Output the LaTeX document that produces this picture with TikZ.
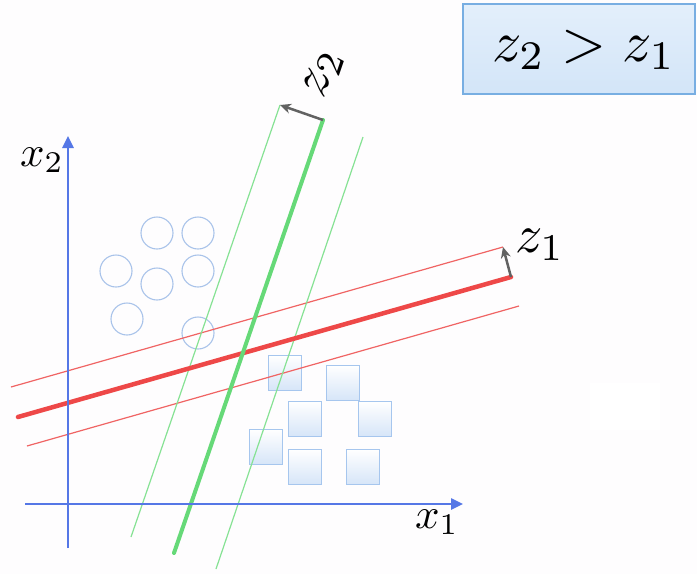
\documentclass[tikz,border=0pt]{standalone}
\usetikzlibrary{arrows.meta}
\definecolor{axisBlue}{HTML}{5577E6}
\definecolor{lineRed}{HTML}{EE4848}
\definecolor{thinRed}{HTML}{F06464}
\definecolor{lineGreen}{HTML}{66D978}
\definecolor{thinGreen}{HTML}{86E294}
\definecolor{dotBlue}{HTML}{A9C3EA}
\definecolor{squareEdge}{HTML}{A6C6EE}
\definecolor{squareFill}{HTML}{D6E5F8}
\definecolor{boxEdge}{HTML}{78AEE2}
\definecolor{boxTop}{HTML}{E3EFFB}
\definecolor{boxMid}{HTML}{F3F8FE}
\definecolor{boxBottom}{HTML}{D3E5F8}
\definecolor{pageTint}{HTML}{FEFDFE}
\definecolor{arrowGray}{HTML}{626262}

\begin{document}
\begin{tikzpicture}[x=1pt,y=-1pt,
  dot/.style={circle, draw=dotBlue, line width=1.1pt, minimum size=32pt, inner sep=0pt},
  square/.style={rectangle, draw=squareEdge, line width=1.1pt, top color=white, bottom color=squareFill, minimum width=33pt, minimum height=35pt, inner sep=0pt},
  thickred/.style={lineRed, line width=4.5pt, line cap=round},
  slimred/.style={thinRed, line width=1.2pt},
  thickgreen/.style={lineGreen, line width=4pt, line cap=round},
  slimgreen/.style={thinGreen, line width=1.2pt},
  normal/.style={arrowGray, line width=2.5pt, -{Stealth[length=11pt,width=10pt]}},
  axis/.style={axisBlue, line width=2.5pt, -{Triangle[length=12pt,width=11pt]}}]
  \fill[pageTint] (0,0) rectangle (697,574);
  \fill[white] (590,383) rectangle (660,430);

  \node[draw=boxEdge, line width=1.2pt, top color=boxTop, middle color=boxMid, bottom color=boxBottom,
        minimum width=232pt, minimum height=90pt] (ineq) at (579,49) {};
  \node[scale=5.8] (ineqtext) at (584,50) {$z_2 > z_1$};

  \foreach \n/\x/\y in {1/157/233, 2/198/233, 3/116/271, 4/157/284, 5/198/271, 6/127/319, 7/198/333}
    \node[dot] (c\n) at (\x,\y) {};
  \foreach \n/\x/\y in {1/285/373, 2/343/383, 3/305/419, 4/375/419, 5/266/447, 6/305/467, 7/363/467}
    \node[square] (s\n) at (\x,\y) {};

  \coordinate (redL) at (18,417);
  \coordinate (redR) at (511,277);
  \coordinate (redUL) at (11,387);
  \coordinate (redUR) at (503,247);
  \coordinate (redDL) at (27,446);
  \coordinate (redDR) at (519,306);
  \coordinate (greenB) at (174,553);
  \coordinate (greenT) at (323,120);
  \coordinate (greenLB) at (131,537);
  \coordinate (greenLT) at (280,105);
  \coordinate (greenRB) at (216,569);
  \coordinate (greenRT) at (363,137);

  \draw[slimred] (redUL) -- (redUR);
  \draw[slimred] (redDL) -- (redDR);
  \draw[slimgreen] (greenLB) -- (greenLT);
  \draw[slimgreen] (greenRB) -- (greenRT);
  \draw[thickred] (redL) -- (redR);
  \draw[thickgreen] (greenB) -- (greenT);
  \draw[normal] (redR) -- (redUR);
  \draw[normal] (greenT) -- (greenLT);

  \node[scale=5.4] (z1) at (540,245) {$z_1$};
  \node[scale=5.4, rotate=71] (z2) at (324,74) {$z_2$};

  \coordinate (origin) at (68,504);
  \coordinate (xend) at (463,504);
  \coordinate (xstart) at (25,504);
  \coordinate (ystart) at (68,548);
  \coordinate (yend) at (68,136);
  \draw[axis] (xstart) -- (xend);
  \draw[axis] (ystart) -- (yend);
  \node[scale=4.3] (x1) at (437,522) {$x_1$};
  \node[scale=4.3] (x2) at (42,160) {$x_2$};
\end{tikzpicture}
\end{document}
